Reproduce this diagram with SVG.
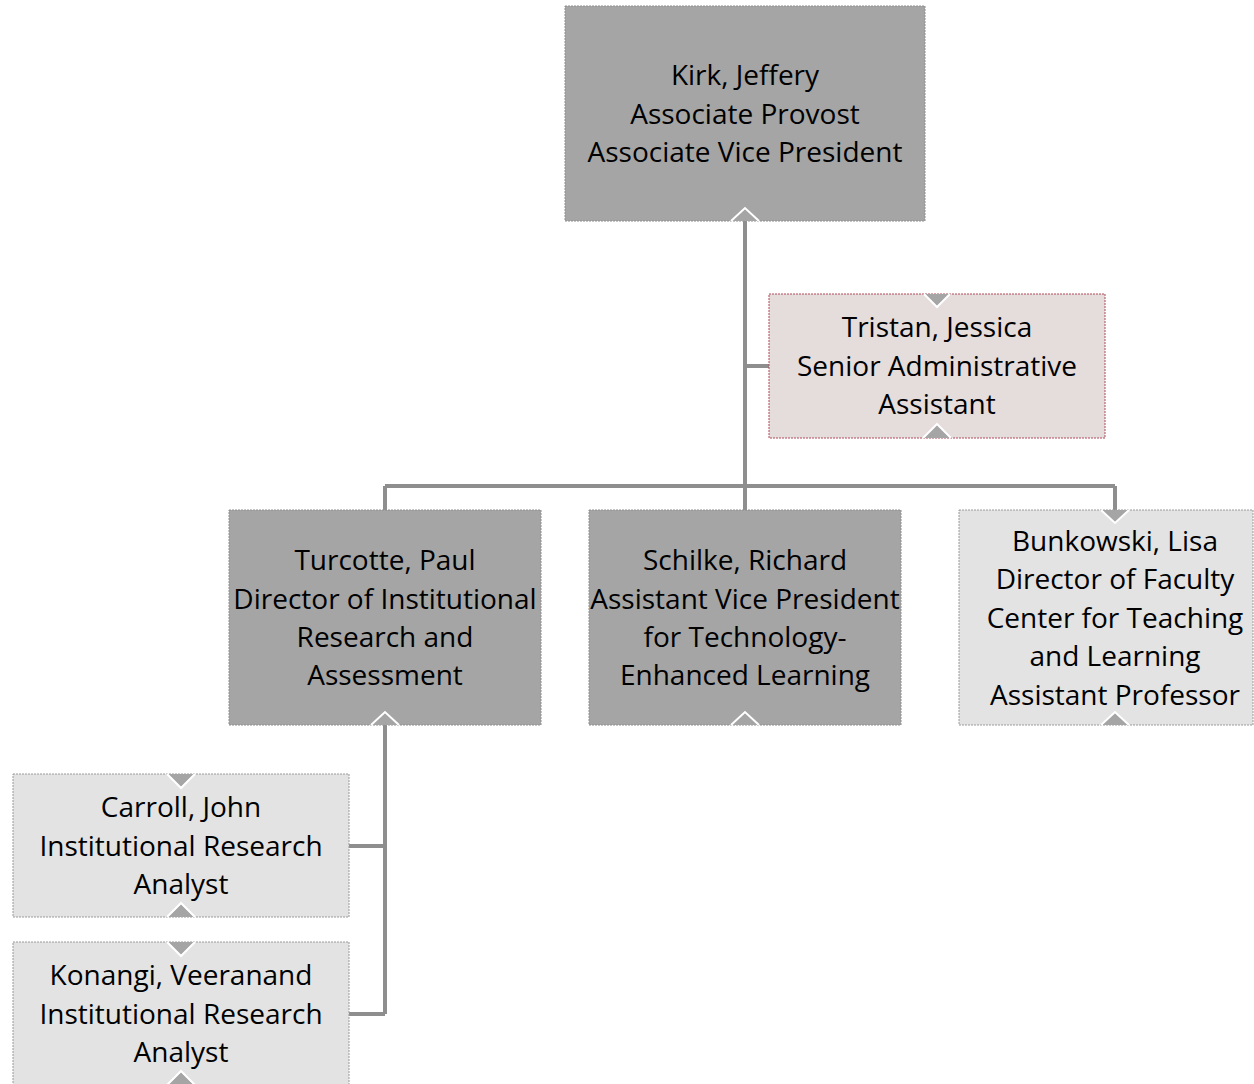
<svg xmlns="http://www.w3.org/2000/svg" width="1254" height="1084" viewBox="0 0 1254 1084">
<defs>
<style>
.dark{fill:#a5a5a5;stroke:#8f8f8f;stroke-width:1;stroke-dasharray:2 1}
.light{fill:#e3e3e3;stroke:#9a9a9a;stroke-width:1;stroke-dasharray:2 1}
.pink{fill:#e5dcdc;stroke:#b04a5a;stroke-width:1;stroke-dasharray:2 1}
.t{font-family:"Open Sans","Noto Sans",sans-serif;font-size:28px;fill:#000;text-anchor:middle}
.conn{fill:none;stroke:#8e8e8e;stroke-width:4}
.nf{fill:#a5a5a5}
.nl{fill:none;stroke:#ffffff;stroke-width:2}
</style>
</defs>
<rect width="1254" height="1084" fill="#ffffff"/>
<g id="connectors">
<path class="conn" d="M745 215 V486 M385 486 H1115 M385 486 V510 M745 486 V510 M1115 486 V518 M745 366 H769 M385 718 V1014 M349 846 H385 M349 1014 H385"/>
</g>
<g id="kirk">
<rect class="dark" x="565" y="6" width="360" height="215"/>
<polygon class="nf" points="732,221 745,209 758,221"/>
<polyline class="nl" points="731,221 745,208 759,221"/>
<text class="t"><tspan x="745" y="85">Kirk, Jeffery</tspan><tspan x="745" y="124">Associate Provost</tspan><tspan x="745" y="162">Associate Vice President</tspan></text>
</g>
<g id="tristan">
<rect class="pink" x="769" y="294" width="336" height="144"/>
<polygon class="nf" points="924,294 937,307 950,294"/>
<polyline class="nl" points="924,294 937,307 950,294" stroke="#b04a5a"/>
<polygon class="nf" points="924,438 937,424 950,438"/>
<polyline class="nl" points="923,438 937,424 951,438"/>
<text class="t"><tspan x="937" y="337">Tristan, Jessica</tspan><tspan x="937" y="376">Senior Administrative</tspan><tspan x="937" y="414">Assistant</tspan></text>
</g>
<g id="turcotte">
<rect class="dark" x="229" y="510" width="312" height="215"/>
<polygon class="nf" points="372,725 385,713 398,725"/>
<polyline class="nl" points="371,725 385,712 399,725"/>
<text class="t"><tspan x="385" y="570">Turcotte, Paul</tspan><tspan x="385" y="609">Director of Institutional</tspan><tspan x="385" y="647">Research and</tspan><tspan x="385" y="685">Assessment</tspan></text>
</g>
<g id="schilke">
<rect class="dark" x="589" y="510" width="312" height="215"/>
<polygon class="nf" points="732,725 745,713 758,725"/>
<polyline class="nl" points="731,725 745,712 759,725"/>
<text class="t"><tspan x="745" y="570">Schilke, Richard</tspan><tspan x="745" y="609">Assistant Vice President</tspan><tspan x="745" y="647">for Technology-</tspan><tspan x="745" y="685">Enhanced Learning</tspan></text>
</g>
<g id="bunkowski">
<rect class="light" x="959" y="510" width="294" height="215"/>
<polygon class="nf" points="1102,510 1115,523 1128,510"/>
<polyline class="nl" points="1101,510 1115,523 1129,510"/>
<polygon class="nf" points="1102,725 1115,713 1128,725"/>
<polyline class="nl" points="1101,725 1115,712 1129,725"/>
<text class="t"><tspan x="1115" y="551">Bunkowski, Lisa</tspan><tspan x="1115" y="589">Director of Faculty</tspan><tspan x="1115" y="628">Center for Teaching</tspan><tspan x="1115" y="666">and Learning</tspan><tspan x="1115" y="705">Assistant Professor</tspan></text>
</g>
<g id="carroll">
<rect class="light" x="13" y="774" width="336" height="143"/>
<polygon class="nf" points="168,774 181,787 194,774"/>
<polyline class="nl" points="167,774 181,788 195,774"/>
<polygon class="nf" points="168,917 181,904 194,917"/>
<polyline class="nl" points="167,917 181,903 195,917"/>
<text class="t"><tspan x="181" y="817">Carroll, John</tspan><tspan x="181" y="856">Institutional Research</tspan><tspan x="181" y="894">Analyst</tspan></text>
</g>
<g id="konangi">
<rect class="light" x="13" y="942" width="336" height="150"/>
<polygon class="nf" points="168,942 181,955 194,942"/>
<polyline class="nl" points="167,942 181,956 195,942"/>
<polygon class="nf" points="168,1085 181,1072 194,1085"/>
<polyline class="nl" points="167,1085 181,1071 195,1085"/>
<text class="t"><tspan x="181" y="985">Konangi, Veeranand</tspan><tspan x="181" y="1024">Institutional Research</tspan><tspan x="181" y="1062">Analyst</tspan></text>
</g>
</svg>
